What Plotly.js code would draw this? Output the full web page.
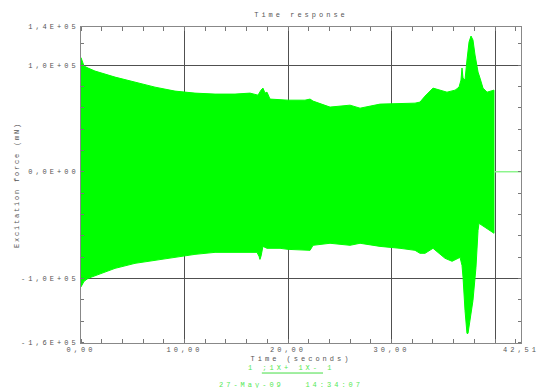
<!DOCTYPE html>
<html><head><meta charset="utf-8">
<script src="https://cdn.plot.ly/plotly-3.0.1.min.js"></script>
<style>
html,body{margin:0;padding:0;background:#fff;}
#chart{width:538px;height:388px;}
.main-svg text{letter-spacing:3px;}
.main-svg text.ytitle{letter-spacing:1.8px;}
</style></head><body><div id="chart"></div>
<script>
// Envelope of the (very dense) excitation force signal
const upperTime = [0, 0.29, 0.68, 1.35, 3.29, 5.22, 7.15, 9.08, 11.01, 12.95, 14.88, 16.33, 17.10, 17.39, 17.58, 17.78, 17.97, 18.26, 20.00, 21.64, 22.13, 22.42, 24.06, 25.99, 26.96, 28.89, 30.82, 32.27, 32.75, 33.24, 34.01, 34.69, 35.36, 36.14, 36.52, 36.71, 36.81, 36.91, 37.10, 37.29, 37.49, 37.68, 37.87, 38.07, 38.36, 38.55, 38.84, 39.23, 39.90];
const upperForce = [107000, 99100, 97200, 94400, 88700, 84000, 79300, 75600, 73700, 72800, 72800, 73700, 71800, 76500, 78400, 73700, 74600, 68100, 67100, 67100, 68100, 66200, 60600, 62400, 59600, 63400, 64300, 64300, 65300, 70900, 78400, 76500, 74600, 76500, 79300, 85900, 97200, 87800, 85900, 104700, 121600, 127200, 123500, 109400, 93400, 87800, 78400, 74600, 76500];
const lowerTime = [0, 0.29, 0.68, 1.35, 3.29, 5.22, 7.15, 9.08, 11.01, 12.95, 14.88, 16.33, 17.00, 17.20, 17.29, 17.39, 17.58, 17.97, 19.23, 20.00, 22.13, 22.42, 24.06, 25.99, 26.96, 28.89, 30.82, 32.27, 32.75, 33.24, 34.01, 35.17, 35.85, 36.62, 36.81, 36.91, 37.10, 37.29, 37.39, 37.58, 37.87, 38.16, 38.36, 38.45, 39.03, 39.90];
const lowerForce = [-108000, -102800, -100000, -97200, -90600, -85900, -83100, -80300, -77500, -75600, -75600, -75600, -75600, -79300, -82200, -79300, -70000, -71800, -71800, -72800, -73700, -69000, -67100, -69000, -67100, -70000, -71800, -73700, -76500, -76500, -71800, -81200, -84000, -80300, -87800, -99100, -130000, -151600, -151600, -142300, -120700, -89700, -54900, -48400, -52100, -57700];
const tailTime = [39.90, 42.51];
const tailForce = [0, 0];

const xTickVals = [0, 10, 20, 30, 40, 42.51];
const xTickText = ['0,00', '10,00', '20,00', '30,00', '', '42,51'];
const yTickVals = [-160000, -100000, 0, 100000, 135700];
const yTickText = ['-1,6E+05', '-1,0E+05', '0,0E+00', '1,0E+05', '1,4E+05'];

const polyX = upperTime.concat(lowerTime.slice().reverse());
const polyY = upperForce.concat(lowerForce.slice().reverse());

const font = {family: 'Liberation Mono, DejaVu Sans Mono, monospace', size: 7, color: '#555'};
const green = '#00ff00';

const traces = [
  {x: polyX, y: polyY, type: 'scatter', mode: 'lines', fill: 'toself', fillcolor: green,
   line: {color: green, width: 1}, hoverinfo: 'skip', showlegend: false},
  {x: tailTime, y: tailForce, type: 'scatter', mode: 'lines',
   line: {color: '#8cf58c', width: 1.5}, showlegend: false}
];

const axisCommon = {
  showline: true, linecolor: '#888', linewidth: 1, mirror: 'allticks',
  showgrid: true, gridcolor: '#505050', gridwidth: 1, zeroline: false,
  tickmode: 'array', ticks: '', tickfont: font
};

const layout = {
  width: 538, height: 388,
  margin: {l: 81, r: 17, t: 27, b: 45},
  paper_bgcolor: '#fff', plot_bgcolor: '#fff',
  font: font,
  showlegend: false,
  title: {text: 'Time response', font: font, x: 0.5, xref: 'paper', y: 1 - 15/388, yref: 'container', yanchor: 'middle'},
  xaxis: Object.assign({}, axisCommon, {
    range: [0, 42.51], tickvals: xTickVals, ticktext: xTickText,
    minor: {dtick: 2, tick0: 0, ticks: 'inside', ticklen: 4, tickcolor: '#777', showgrid: false},
    title: {text: 'Time (seconds)', font: font, standoff: 2}
  }),
  yaxis: Object.assign({}, axisCommon, {
    range: [-160600, 135700], tickvals: yTickVals, ticktext: yTickText,
    minor: {dtick: 20000, tick0: 0, ticks: 'inside', ticklen: 3, tickcolor: '#777', showgrid: false},
    title: {text: 'Excitation force (mN)', font: font, standoff: 24}
  }),
  annotations: [
    {text: '1 ;1X+ 1X- 1', xref: 'paper', yref: 'paper', x: 0.477, y: -0.079, showarrow: false,
     font: {family: font.family, size: 7, color: '#55e855'}, xanchor: 'center', yanchor: 'middle'},
    {text: '27-May-09\u00a0\u00a0\u00a014:34:07', xref: 'paper', yref: 'paper', x: 0.477, y: -0.133, showarrow: false,
     font: {family: font.family, size: 7, color: '#55e855'}, xanchor: 'center', yanchor: 'middle'}
  ],
  shapes: [
    {type: 'line', xref: 'paper', yref: 'paper', x0: 0.411, x1: 0.55, y0: -0.095, y1: -0.095,
     line: {color: '#44dd44', width: 1}}
  ]
};

Plotly.newPlot('chart', traces, layout, {staticPlot: true, displayModeBar: false});
</script></body></html>
